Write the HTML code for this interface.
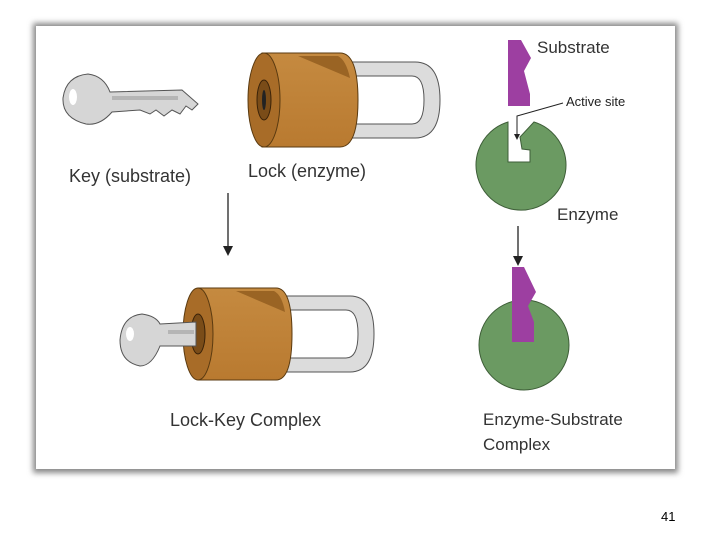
<!DOCTYPE html>
<html><head><style>
html,body{margin:0;padding:0;background:#fff;}
svg{display:block;font-family:"Liberation Sans",sans-serif;}
</style></head><body>
<svg width="720" height="540" viewBox="0 0 720 540">
<defs>
<linearGradient id="br" x1="0" y1="0" x2="0" y2="1"><stop offset="0" stop-color="#c58a40"/><stop offset="1" stop-color="#b97a30"/></linearGradient>
<filter id="sh" x="-5%" y="-5%" width="110%" height="110%"><feGaussianBlur stdDeviation="3"/></filter>
</defs>
<rect x="33" y="23" width="645" height="450" fill="#888" filter="url(#sh)"/>
<rect x="36" y="26" width="639" height="443" fill="#fff"/>

<!-- top key -->
<path d="M110 92 L182 90 L198 104 L192 110 L186 106 L180 114 L172 110 L164 116 L156 110 L150 114 L140 110 L112 112 Q100 126 86 124 Q62 118 63 98 Q66 76 88 74 Q104 76 110 92Z" fill="#d6d6d6" stroke="#555" stroke-width="1"/>
<ellipse cx="73" cy="97" rx="4" ry="8" fill="#fff"/>
<rect x="112" y="96" width="66" height="4" fill="#b5b5b5"/>
<!-- top lock -->
<path d="M345 62 L415 62 Q440 62 440 100 Q440 138 415 138 L345 138 L345 124 L412 124 Q424 124 424 100 Q424 76 412 76 L345 76Z" fill="#dcdcdc" stroke="#555" stroke-width="1"/>
<path d="M262 53 L340 53 Q358 53 358 100 Q358 147 340 147 L262 147Z" fill="url(#br)" stroke="#5a3a10" stroke-width="1"/>
<path d="M298 56 L338 56 Q346 60 350 78 Z" fill="#9a6424"/>
<ellipse cx="264" cy="100" rx="16" ry="47" fill="#a86c28" stroke="#5a3a10" stroke-width="1"/>
<ellipse cx="264" cy="100" rx="7" ry="20" fill="#7a4c18" stroke="#3a2208"/>
<ellipse cx="264" cy="100" rx="2" ry="10" fill="#222"/>
<text x="69" y="182" font-size="18" fill="#333">Key (substrate)</text>
<text x="248" y="177" font-size="18" fill="#333">Lock (enzyme)</text>

<!-- left arrow -->
<line x1="228" y1="193" x2="228" y2="248" stroke="#222" stroke-width="1.3"/>
<path d="M223 246 L233 246 L228 256Z" fill="#222"/>

<!-- bottom lock -->
<path d="M285 296 L350 296 Q374 296 374 334 Q374 372 350 372 L285 372 L285 358 L346 358 Q358 358 358 334 Q358 310 346 310 L285 310Z" fill="#dcdcdc" stroke="#555" stroke-width="1"/>
<path d="M198 288 L276 288 Q292 288 292 334 Q292 380 276 380 L198 380Z" fill="url(#br)" stroke="#5a3a10" stroke-width="1"/>
<path d="M236 291 L274 291 Q282 295 285 312 Z" fill="#9a6424"/>
<ellipse cx="198" cy="334" rx="15" ry="46" fill="#a86c28" stroke="#5a3a10" stroke-width="1"/>
<ellipse cx="198" cy="334" rx="7" ry="20" fill="#7a4c18" stroke="#3a2208"/>
<path d="M160 324 L196 322 L196 346 L160 346 Q152 366 140 366 Q120 362 120 340 Q122 316 142 314 Q156 316 160 324Z" fill="#d6d6d6" stroke="#555" stroke-width="1"/>
<ellipse cx="130" cy="334" rx="4" ry="7" fill="#fff"/>
<rect x="168" y="330" width="26" height="4" fill="#b5b5b5"/>
<text x="170" y="426" font-size="18" fill="#333">Lock-Key Complex</text>

<!-- enzyme top -->
<path d="M508 122 A45 45 0 1 0 534 122 L520 137 L522 149 L530 150 L530 162 L508 162Z" fill="#6b9a62" stroke="#3e5e38" stroke-width="1"/>
<path d="M508 40 L521 40 L531 58 L524 71 L530 94 L530 106 L508 106Z" fill="#9d3fa1"/>
<text x="537" y="53" font-size="17" fill="#333">Substrate</text>
<polyline points="563,103 517,116 517,136" fill="none" stroke="#222" stroke-width="1"/>
<path d="M514 134 L520 134 L517 140Z" fill="#222"/>
<text x="566" y="106" font-size="13" fill="#222">Active site</text>
<text x="557" y="220" font-size="17" fill="#333">Enzyme</text>

<!-- right arrow -->
<line x1="518" y1="226" x2="518" y2="258" stroke="#222" stroke-width="1.3"/>
<path d="M513 256 L523 256 L518 266Z" fill="#222"/>

<!-- enzyme bottom -->
<circle cx="524" cy="345" r="45" fill="#6b9a62" stroke="#3e5e38" stroke-width="1"/>
<path d="M512 267 L524 267 L536 292 L528 306 L534 322 L534 342 L512 342Z" fill="#9d3fa1"/>
<text x="483" y="425" font-size="17" fill="#333">Enzyme-Substrate</text>
<text x="483" y="450" font-size="17" fill="#333">Complex</text>

<text x="661" y="521" font-size="13" fill="#000">41</text>
</svg>
</body></html>
